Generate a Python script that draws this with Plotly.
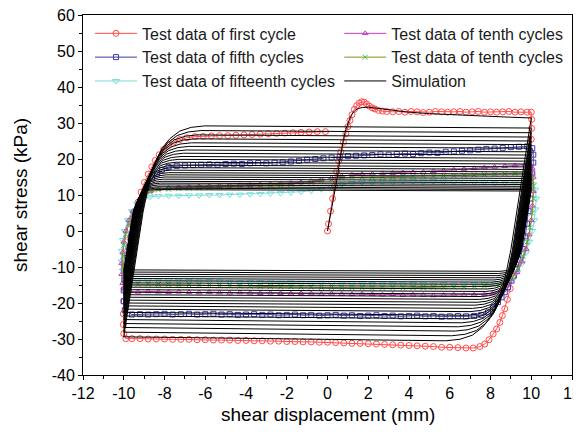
import plotly.graph_objects as go

# ---------------- Test data ----------------
# first cycle: loading, plateau, unloading, lower plateau, reloading, upper plateau
red_x = [0, 0.05, 0.15, 0.25, 0.35, 0.45, 0.55, 0.65, 0.78, 0.9, 1.0, 1.1, 1.2, 1.32, 1.43, 1.55, 1.68, 1.8, 1.92, 2.05, 2.2, 2.33, 2.5, 2.7, 2.9,
         3.2, 3.5, 3.8, 4.1, 4.4, 4.7, 5.0, 5.3, 5.6, 5.9, 6.2, 6.5, 6.8, 7.1, 7.4, 7.7, 8.0, 8.3, 8.6, 8.9, 9.2, 9.5, 9.8, 10.0,
         10.02, 10.02, 10.0, 9.97, 9.92, 9.85, 9.76, 9.66, 9.55, 9.44, 9.33, 9.22, 9.1, 8.97, 8.83, 8.7, 8.58, 8.46, 8.3, 8.13, 7.93, 7.72, 7.48, 7.15, 6.8,
         6.4, 6.0, 5.6, 5.2, 4.8, 4.4, 4.0, 3.6, 3.2, 2.8, 2.4, 2.0, 1.6, 1.2, 0.8, 0.4, 0.0, -0.4, -0.8, -1.2, -1.6, -2.0, -2.4, -2.8, -3.2, -3.6,
         -4.0, -4.4, -4.8, -5.2, -5.6, -6.0, -6.4, -6.8, -7.2, -7.6, -8.0, -8.4, -8.8, -9.2, -9.6, -9.9,
         -10.0, -10.02, -10.02, -10.0, -9.97, -9.93, -9.88, -9.8, -9.7, -9.58, -9.45, -9.3, -9.15, -8.98, -8.8, -8.62, -8.45, -8.26, -8.05, -7.8, -7.55, -7.25, -6.9, -6.5,
         -6.1, -5.7, -5.3, -4.9, -4.5, -4.1, -3.7, -3.3, -2.9, -2.5, -2.1, -1.7, -1.3, -0.9, -0.5, -0.1]
red_y = [0, 2, 5.5, 9, 12.5, 16.5, 19.5, 22, 24.6, 27, 29, 30.7, 32.3, 33.8, 34.8, 35.5, 35.9, 35.8, 35.3, 34.7, 34.2, 33.9, 33.5, 33.3, 33.2,
         33.1, 33.2, 33.0, 33.2, 33.1, 32.9, 33.0, 33.2, 33.1, 33.0, 33.1, 33.2, 33.0, 33.1, 33.2, 33.0, 33.1, 33.0, 33.1, 33.2, 33.0, 33.1, 33.0, 33.0,
         31, 28.5, 25.5, 22, 18, 14, 10, 6, 2, -2, -5.5, -9, -12.5, -16, -19, -21.6, -23.5, -25.4, -27.2, -28.6, -30.2, -31.4, -32.1, -32.5, -32.5,
         -32.4, -32.3, -32.3, -32.1, -32.0, -31.9, -31.8, -31.7, -31.6, -31.5, -31.4, -31.3, -31.2, -31.2, -31.1, -31.0, -30.9, -30.9, -30.8, -30.8, -30.7, -30.7, -30.6, -30.6, -30.5, -30.5,
         -30.4, -30.4, -30.3, -30.3, -30.3, -30.2, -30.2, -30.1, -30.1, -30.1, -30.0, -30.0, -30.0, -29.9, -29.9, -29.9,
         -28.5, -26, -23, -19.5, -16, -12.5, -9, -5.5, -2, 1.5, 5, 8, 10.8, 13.5, 15.8, 17.8, 19.6, 21.2, 22.6, 23.8, 24.7, 25.4, 25.9, 26.2,
         26.3, 26.4, 26.5, 26.5, 26.6, 26.7, 26.8, 26.9, 27.0, 27.1, 27.2, 27.3, 27.4, 27.5, 27.6, 27.6]

# fifth cycles
blue_x = [0.2, 0.6, 1.0, 1.4, 1.8, 2.2, 2.6, 3.0, 3.4, 3.8, 4.2, 4.6, 5.0, 5.4, 5.8, 6.2, 6.6, 7.0, 7.4, 7.8, 8.2, 8.6, 9.0, 9.4, 9.8,
          10.05, 10.1, 10.1, 10.05, 10.0, 9.94, 9.87, 9.79, 9.7, 9.58, 9.45, 9.3, 9.15, 9.03, 8.86, 8.7, 8.54, 8.37, 8.13, 7.88, 7.55, 7.2,
          6.8, 6.4, 6.0, 5.6, 5.2, 4.8, 4.4, 4.0, 3.6, 3.2, 2.8, 2.4, 2.0, 1.6, 1.2, 0.8, 0.4, 0.0, -0.4, -0.8, -1.2, -1.6, -2.0, -2.4, -2.8,
          -3.2, -3.6, -4.0, -4.4, -4.8, -5.2, -5.6, -6.0, -6.4, -6.8, -7.2, -7.6, -8.0, -8.4, -8.8, -9.2, -9.6,
          -9.95, -10.0, -10.0, -9.97, -9.92, -9.85, -9.76, -9.65, -9.52, -9.37, -9.2, -9.02, -8.83, -8.62, -8.37, -8.13, -7.8, -7.4, -7.0,
          -6.6, -6.2, -5.8, -5.4, -5.0, -4.6, -4.2, -3.8, -3.4, -3.0, -2.6, -2.2, -1.8, -1.4, -1.0, -0.6, -0.2]
blue_y = [20.4, 20.6, 20.8, 20.9, 21.0, 21.1, 21.3, 21.2, 21.4, 21.5, 21.4, 21.6, 21.8, 21.7, 22.0, 22.1, 22.3, 22.4, 22.6, 22.8, 22.9, 23.1, 23.3, 23.4, 23.5,
          23.0, 21.2, 19.0, 16.0, 12.5, 9.0, 5.5, 2.0, -1.5, -5.0, -8.0, -10.5, -12.4, -13.8, -15.6, -17.0, -18.4, -19.8, -21.2, -22.6, -23.3, -23.6,
          -23.7, -23.6, -23.7, -23.8, -23.6, -23.7, -23.5, -23.6, -23.7, -23.5, -23.6, -23.4, -23.5, -23.6, -23.4, -23.5, -23.3, -23.4, -23.5, -23.3, -23.4, -23.2, -23.3, -23.4, -23.2,
          -23.3, -23.1, -23.2, -23.3, -23.1, -23.2, -23.0, -23.1, -23.2, -23.0, -23.1, -23.2, -23.0, -23.1, -23.2, -23.1, -23.2,
          -22.0, -19.5, -16.5, -13.5, -10.5, -7.5, -4.5, -1.5, 1.5, 4.5, 7.5, 10.2, 12.6, 14.6, 15.9, 17.0, 17.8, 18.1, 18.2,
          18.3, 18.4, 18.5, 18.4, 18.6, 18.7, 18.6, 18.8, 18.9, 18.8, 19.0, 19.1, 19.3, 19.5, 19.8, 20.0, 20.2]

# tenth cycles (triangles)
mag_x = [0.2, 0.7, 1.2, 1.7, 2.2, 2.7, 3.2, 3.7, 4.2, 4.7, 5.2, 5.7, 6.2, 6.7, 7.2, 7.7, 8.2, 8.7, 9.2, 9.7,
         10.05, 10.1, 10.1, 10.05, 10.0, 9.9, 9.75, 9.55, 9.3, 9.0, 8.78, 8.5, 8.1,
         7.7, 7.2, 6.7, 6.2, 5.7, 5.2, 4.7, 4.2, 3.7, 3.2, 2.7, 2.2, 1.7, 1.2, 0.7, 0.2, -0.3, -0.8, -1.3, -1.8, -2.3, -2.8, -3.3, -3.8,
         -4.3, -4.8, -5.3, -5.8, -6.3, -6.8, -7.3, -7.8, -8.3, -8.8, -9.3, -9.7,
         -9.95, -10.05, -10.1, -10.1, -10.05, -10.0, -9.9, -9.75, -9.55, -9.3, -9.0, -8.7, -8.3,
         -7.8, -7.3, -6.8, -6.3, -5.8, -5.3, -4.8, -4.3, -3.8, -3.3, -2.8, -2.3, -1.8, -1.3, -0.8, -0.3]
mag_y = [14.8, 15.3, 15.6, 15.8, 15.9, 16.0, 16.1, 16.2, 16.3, 16.4, 16.6, 16.8, 17.0, 17.2, 17.4, 17.6, 17.8, 18.0, 18.2, 18.4,
         17.5, 15.0, 11.0, 7.0, 3.0, -1.0, -5.0, -8.5, -11.5, -13.5, -15.2, -16.6, -17.4,
         -17.6, -17.7, -17.8, -17.7, -17.8, -17.9, -17.8, -17.7, -17.8, -17.6, -17.7, -17.6, -17.5, -17.6, -17.5, -17.4, -17.5, -17.4, -17.3, -17.4, -17.3, -17.2, -17.3, -17.2,
         -17.1, -17.2, -17.1, -17.0, -17.1, -17.0, -16.9, -17.0, -16.9, -16.8, -16.9, -16.8,
         -16.0, -14.5, -12.0, -9.0, -6.0, -3.0, 0.0, 3.0, 5.5, 7.8, 9.7, 11.0, 11.6,
         11.9, 12.1, 12.2, 12.3, 12.4, 12.5, 12.6, 12.7, 12.8, 12.9, 13.0, 13.1, 13.3, 13.5, 13.8, 14.3]

# tenth cycles (crosses)
grn_x = [0.2, 0.7, 1.2, 1.7, 2.2, 2.7, 3.2, 3.7, 4.2, 4.7, 5.2, 5.7, 6.2, 6.7, 7.2, 7.7, 8.2, 8.7, 9.2, 9.7,
         10.05, 10.1, 10.1, 10.05, 9.95, 9.8, 9.6, 9.35, 9.1, 8.8, 8.4,
         7.7, 7.2, 6.7, 6.2, 5.7, 5.2, 4.7, 4.2, 3.7, 3.2, 2.7, 2.2, 1.7, 1.2, 0.7, 0.2, -0.3, -0.8, -1.3, -1.8, -2.3, -2.8, -3.3, -3.8,
         -4.3, -4.8, -5.3, -5.8, -6.3, -6.8, -7.3, -7.8, -8.3, -8.8, -9.3, -9.7,
         -9.95, -10.0, -10.05, -10.05, -10.0, -9.9, -9.75, -9.55, -9.3, -9.0, -8.7, -8.3,
         -7.8, -7.3, -6.8, -6.3, -5.8, -5.3, -4.8, -4.3, -3.8, -3.3, -2.8, -2.3, -1.8, -1.3, -0.8, -0.3]
grn_y = [14.3, 14.7, 14.9, 15.0, 15.0, 15.1, 15.1, 15.2, 15.2, 15.3, 15.3, 15.4, 15.4, 15.5, 15.6, 15.7, 15.8, 15.9, 16.0, 16.1,
         15.0, 12.5, 9.0, 5.0, 1.0, -3.0, -7.0, -10.5, -12.8, -14.3, -15.1,
         -15.3, -15.4, -15.5, -15.5, -15.6, -15.6, -15.7, -15.7, -15.8, -15.8, -15.8, -15.9, -15.8, -15.8, -15.8, -15.7, -15.7, -15.6, -15.6, -15.5, -15.5, -15.4, -15.4, -15.3,
         -15.3, -15.2, -15.2, -15.1, -15.1, -15.0, -15.0, -14.9, -14.9, -14.8, -14.8, -14.7,
         -14.0, -12.5, -10.0, -7.0, -4.0, -1.0, 2.0, 5.0, 7.5, 9.5, 10.8, 11.4,
         11.6, 11.8, 11.9, 12.0, 12.1, 12.2, 12.3, 12.4, 12.5, 12.6, 12.7, 12.8, 13.0, 13.2, 13.5, 13.9]

# fifteenth cycles
cyan_x = [0.2, 0.7, 1.2, 1.7, 2.2, 2.7, 3.2, 3.7, 4.2, 4.7, 5.2, 5.7, 6.2, 6.7, 7.2, 7.7, 8.2, 8.7, 9.2, 9.7,
          10.1, 10.2, 10.25, 10.2, 10.15, 10.05, 9.9, 9.75, 9.55, 9.3, 9.0, 8.7,
          8.2, 7.7, 7.2, 6.7, 6.2, 5.7, 5.2, 4.7, 4.2, 3.7, 3.2, 2.7, 2.2, 1.7, 1.2, 0.7, 0.2, -0.3, -0.8, -1.3, -1.8, -2.3, -2.8, -3.3,
          -3.8, -4.3, -4.8, -5.3, -5.8, -6.3, -6.8, -7.3, -7.8, -8.3, -8.8, -9.3, -9.7,
          -9.95, -10.05, -10.1, -10.1, -10.05, -9.95, -9.8, -9.6, -9.35, -9.05, -8.7,
          -8.3, -7.8, -7.3, -6.8, -6.3, -5.8, -5.3, -4.8, -4.3, -3.8, -3.3, -2.8, -2.3, -1.8, -1.3, -0.8, -0.3]
cyan_y = [12.2, 12.9, 13.3, 13.5, 13.6, 13.7, 13.7, 13.8, 13.8, 13.7, 13.8, 13.7, 13.6, 13.6, 13.5, 13.5, 13.4, 13.4, 13.5, 13.5,
          13.0, 11.5, 9.0, 6.0, 3.0, 0.0, -3.0, -6.0, -9.0, -11.5, -13.3, -14.3,
          -14.6, -14.7, -14.8, -14.8, -14.9, -14.8, -14.9, -14.8, -14.7, -14.8, -14.7, -14.6, -14.7, -14.6, -14.5, -14.6, -14.5, -14.4, -14.5, -14.4, -14.3, -14.4, -14.3, -14.2,
          -14.1, -14.2, -14.1, -14.0, -13.9, -14.0, -13.9, -13.8, -13.7, -13.8, -13.7, -13.6, -13.6,
          -12.8, -11.0, -8.5, -5.5, -2.5, 0.0, 3.0, 5.5, 7.5, 8.8, 9.5,
          9.7, 9.8, 9.8, 9.9, 9.9, 10.0, 10.0, 10.1, 10.1, 10.2, 10.3, 10.4, 10.5, 10.7, 10.9, 11.2, 11.6]

# ---------------- Simulation ----------------
sim_load_x = [0, 0.1, 0.2, 0.3, 0.4, 0.5, 0.6, 0.7, 0.8, 0.9, 1.0, 1.1, 1.2, 1.35, 1.5, 1.7, 2.0, 2.5, 3, 4, 5, 6, 7, 8, 9, 10]
sim_load_y = [0, 3, 6, 9, 12, 15.5, 19.5, 23, 26, 28.2, 30, 31.4, 32.5, 33.5, 34, 34.3, 34.4, 34.0, 33.6, 33.0, 32.6, 32.3, 32.0, 31.8, 31.6, 31.4]
# plateau levels of each simulated cycle
sim_lower_start = [-30.5, -29.1, -27.8, -26.6, -25.5, -24.4, -23.4, -22.4, -21.5, -20.6, -19.8, -19.0,
                   -18.2, -17.5, -16.8, -16.1, -15.4, -14.8, -14.2, -13.6, -13.0, -12.4, -11.8, -11.2]
sim_lower_end = [-29.4, -28.1, -26.8, -25.7, -24.6, -23.6, -22.6, -21.7, -20.8, -20.0, -19.2, -18.4,
                 -17.7, -17.0, -16.3, -15.6, -15.0, -14.4, -13.8, -13.2, -12.6, -12.0, -11.4, -10.8]
sim_upper_start = [29.2, 27.9, 26.7, 25.6, 24.5, 23.5, 22.5, 21.6, 20.7, 19.9, 19.1, 18.3,
                   17.6, 16.9, 16.2, 15.6, 15.0, 14.4, 13.8, 13.3, 12.8, 12.3, 11.9, 11.5]
sim_upper_end = [28.6, 27.3, 26.1, 25.0, 24.0, 23.0, 22.0, 21.1, 20.2, 19.4, 18.6, 17.8,
                 17.1, 16.4, 15.8, 15.2, 14.6, 14.0, 13.4, 12.9, 12.4, 11.9, 11.5, 11.1]
# shape of a reversal branch (read from the outer loop, span 62 kPa)
branch_dx = [0, 0.2, 0.4, 0.6, 0.8, 1.0, 1.2, 1.4, 1.7, 2.0, 2.4, 2.9, 3.5, 4.2]
branch_f = [0, 0.12, 0.24, 0.36, 0.48, 0.59, 0.68, 0.76, 0.84, 0.895, 0.94, 0.975, 0.993, 1.0]
branch_span = 62.0
x_amp = 10.0

# axis ticks
x_tickvals = [-12, -10, -8, -6, -4, -2, 0, 2, 4, 6, 8, 10, 12]
x_ticktext = ["-12", "-10", "-8", "-6", "-4", "-2", "0", "2", "4", "6", "8", "10", "12"]
y_tickvals = [-40, -30, -20, -10, 0, 10, 20, 30, 40, 50, 60]
y_ticktext = ["-40", "-30", "-20", "-10", "0", "10", "20", "30", "40", "50", "60"]

sim_x = list(sim_load_x)
sim_y = list(sim_load_y)
cur = sim_y[-1]
for lo_s, lo_e, up_s, up_e in zip(sim_lower_start, sim_lower_end, sim_upper_start, sim_upper_end):
    span = cur - lo_s
    sc = span / branch_span
    for dx, f in zip(branch_dx[1:], branch_f[1:]):
        sim_x.append(x_amp - dx * sc)
        sim_y.append(cur - f * span)
    sim_x.append(-x_amp)
    sim_y.append(lo_e)
    cur = lo_e
    span = up_s - cur
    sc = span / branch_span
    for dx, f in zip(branch_dx[1:], branch_f[1:]):
        sim_x.append(-x_amp + dx * sc)
        sim_y.append(cur + f * span)
    sim_x.append(x_amp)
    sim_y.append(up_e)
    cur = up_e

FONT = "Arial, Liberation Sans, sans-serif"

fig = go.Figure()

def add_test(x, y, name, color, symbol, size, legend, rank, mcolor=None, lw=1):
    fig.add_trace(go.Scatter(
        x=x, y=y, name=name, mode="lines+markers",
        line=dict(color=color, width=lw),
        marker=dict(symbol=symbol, size=size, color=mcolor or color,
                    line=dict(color=mcolor or color, width=1)),
        legend=legend, legendrank=rank))

add_test(red_x, red_y, "Test data of first cycle", "#ff4a4a", "circle-open", 6, "legend", 1)
add_test(blue_x, blue_y, "Test data of fifth cycles", "#3c3ca8", "square-open", 5, "legend", 2)
add_test(cyan_x, cyan_y, "Test data of fifteenth cycles", "#78dcd6", "triangle-down-open", 6, "legend", 3)
add_test(mag_x, mag_y, "Test data of tenth cycles", "#c23cc2", "triangle-up-open", 5, "legend2", 1)
add_test(grn_x, grn_y, "Test data of tenth cycles", "#8c8c1e", "x-thin", 5, "legend2", 2, mcolor="#3cc83c")

fig.add_trace(go.Scatter(x=sim_x, y=sim_y, name="Simulation", mode="lines",
                         line=dict(color="black", width=1), legend="legend2", legendrank=3))

axis_common = dict(showline=True, linecolor="black", linewidth=1, mirror=True,
                   ticks="outside", ticklen=4, tickwidth=1, tickcolor="black",
                   showgrid=False, zeroline=False, automargin=False,
                   ticklabeloverflow="allow",
                   tickfont=dict(family=FONT, size=16, color="black"))

fig.update_xaxes(range=[-12, 12], tickmode="array", tickvals=x_tickvals, ticktext=x_ticktext,
                 minor=dict(ticks="outside", ticklen=3, dtick=1, tick0=-12, tickcolor="black"),
                 **axis_common)
fig.update_yaxes(range=[-40, 60], tickmode="array", tickvals=y_tickvals, ticktext=y_ticktext,
                 minor=dict(ticks="outside", ticklen=3, dtick=5, tick0=-40, tickcolor="black"),
                 **axis_common)

# axis titles
fig.add_annotation(text="shear displacement (mm)", xref="paper", yref="paper", x=0.5, y=0,
                   xanchor="center", yanchor="middle", yshift=-39, showarrow=False,
                   font=dict(family=FONT, size=19, color="black"))
fig.add_annotation(text="shear stress (kPa)", xref="paper", yref="paper", x=0, y=0.5,
                   xanchor="center", yanchor="middle", xshift=-63, textangle=-90, showarrow=False,
                   font=dict(family=FONT, size=19, color="black"))

legend_common = dict(orientation="v", xanchor="left", yanchor="top", y=0.996,
                     bgcolor="rgba(0,0,0,0)", borderwidth=0, itemwidth=42,
                     font=dict(family=FONT, size=16, color="#1a1a1a"), tracegroupgap=0,
                     traceorder="normal")
# the page adds an 8 px body margin on every side, so the figure is kept
# small enough that the page never overflows the window
fig.update_layout(
    width=573, height=420,
    margin=dict(l=75, r=9, t=7, b=53),
    plot_bgcolor="white", paper_bgcolor="white",
    font=dict(family=FONT, color="black"),
    showlegend=True,
    legend=dict(x=0.0143, **legend_common),
    legend2=dict(x=0.524, **legend_common),
)

fig.write_html("out.html")
